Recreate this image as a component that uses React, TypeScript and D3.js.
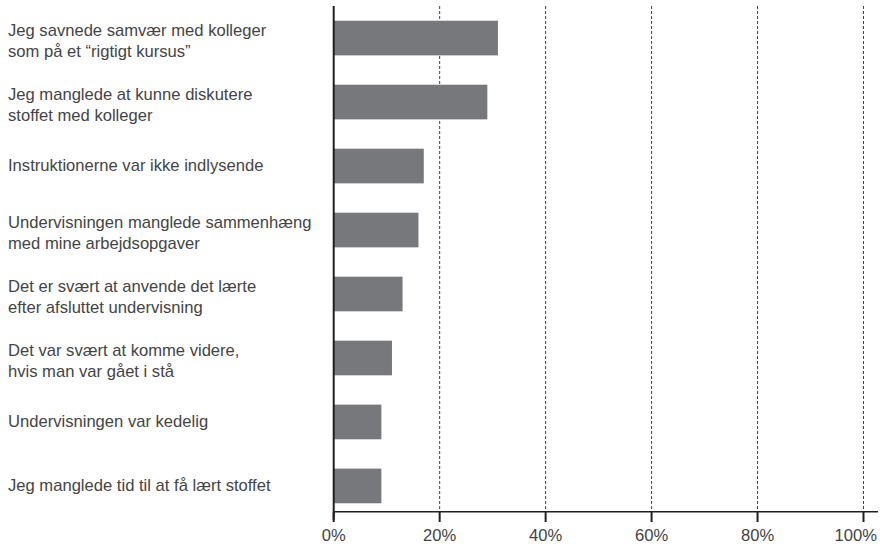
import React from "react";
import * as d3 from "d3";

const categories: string[][] = [
  ["Jeg savnede samvær med kolleger", "som på et “rigtigt kursus”"],
  ["Jeg manglede at kunne diskutere", "stoffet med kolleger"],
  ["Instruktionerne var ikke indlysende"],
  ["Undervisningen manglede sammenhæng", "med mine arbejdsopgaver"],
  ["Det er svært at anvende det lærte", "efter afsluttet undervisning"],
  ["Det var svært at komme videre,", "hvis man var gået i stå"],
  ["Undervisningen var kedelig"],
  ["Jeg manglede tid til at få lært stoffet"],
];
const values: number[] = [31, 29, 17, 16, 13, 11, 9, 9];
const ticks: number[] = [0, 20, 40, 60, 80, 100];

const W = 880;
const H = 547;

export default function App() {
  const x = d3.scaleLinear().domain([0, 100]).range([333.7, 863.5]);
  const idx = categories.map((_, i) => String(i));
  const y = d3
    .scaleBand<string>()
    .domain(idx)
    .range([6, 518])
    .paddingInner(0.458)
    .paddingOuter(0.23);
  const axisY = 511.7;
  const font = "'Liberation Sans', Arial, Helvetica, sans-serif";
  const fs = 16.6;
  const lineH = 21;
  const txt = "#444";
  return (
    <svg
      width={W}
      height={H}
      style={{ position: "absolute", left: 0, top: 0, background: "#fff" }}
    >
      {ticks.slice(1).map((t) => (
        <line
          key={"g" + t}
          x1={x(t)}
          x2={x(t)}
          y1={6}
          y2={axisY}
          stroke="#444"
          strokeWidth={1}
          strokeDasharray="3,2"
        />
      ))}
      {values.map((v, i) => (
        <rect
          key={"b" + i}
          x={x(0)}
          y={y(String(i))}
          width={x(v) - x(0)}
          height={y.bandwidth()}
          fill="#77787b"
        />
      ))}
      <line x1={x(0)} x2={x(0)} y1={6} y2={520} stroke="#231f20" strokeWidth={2} />
      <line x1={x(0)} x2={878} y1={axisY} y2={axisY} stroke="#231f20" strokeWidth={1.5} />
      {ticks.map((t, k) => {
        const last = k === ticks.length - 1;
        return (
          <g key={"t" + t}>
            <line x1={x(t)} x2={x(t)} y1={axisY} y2={522} stroke="#231f20" strokeWidth={2} />
            <text
              x={last ? 877 : x(t)}
              y={541}
              textAnchor={last ? "end" : "middle"}
              fontFamily={font}
              fontSize={fs}
              fill={txt}
            >
              {t + "%"}
            </text>
          </g>
        );
      })}
      {categories.map((lines, i) => {
        const cy = (y(String(i)) as number) + y.bandwidth() / 2;
        const n = lines.length;
        const startY = cy - ((n - 1) * lineH) / 2 + (n - 1) * 3.5;
        return (
          <text key={"l" + i} fontFamily={font} fontSize={fs} fill={txt}>
            {lines.map((ln, j) => (
              <tspan key={j} x={8} y={startY + j * lineH + 4.6}>
                {ln}
              </tspan>
            ))}
          </text>
        );
      })}
    </svg>
  );
}
